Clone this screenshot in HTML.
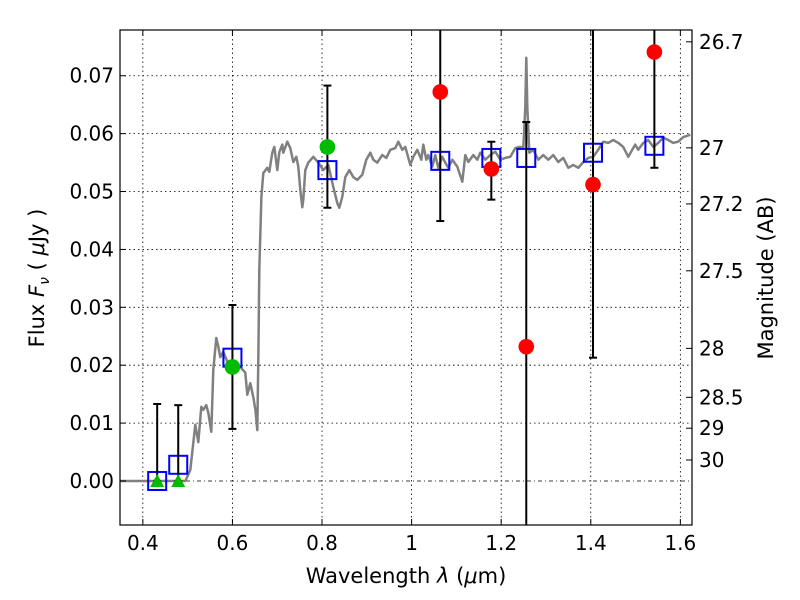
<!DOCTYPE html>
<html><head><meta charset="utf-8"><style>
html,body{margin:0;padding:0;background:#fff;}
svg{display:block;font-family:"DejaVu Sans","Liberation Sans",sans-serif;}
</style></head><body>
<svg id="chart" width="800" height="600">
<rect x="0" y="0" width="800" height="600" fill="#fff"/>
<g id="grid"></g>
<g id="plot"></g>
<g id="axes"></g>
<text x="406" y="583" font-size="21" text-anchor="middle">Wavelength  <tspan font-style="italic">λ</tspan> (<tspan font-style="italic">μ</tspan>m)</text>
<text transform="translate(44,278) rotate(-90)" font-size="21" text-anchor="middle">Flux  <tspan font-style="italic">F</tspan><tspan font-style="italic" font-size="14" dy="5">ν</tspan><tspan dy="-5">  ( </tspan><tspan font-style="italic">μ</tspan>Jy )</text>
<text transform="translate(773,278) rotate(-90)" font-size="21" text-anchor="middle">Magnitude (AB)</text>
</svg>
<script>
const specLam=[0.350,0.495,0.506,0.5172,0.5239,0.5306,0.5350,0.5417,0.5462,0.5529,0.5574,0.5641,0.5685,0.5730,0.5797,0.5886,0.6020,0.6176,0.6288,0.6333,0.6400,0.6467,0.6512,0.6556,0.6579,0.6601,0.6646,0.6690,0.6779,0.6824,0.6891,0.6935,0.7002,0.7047,0.7114,0.7136,0.7225,0.7292,0.7359,0.7426,0.7471,0.7516,0.7560,0.7583,0.7627,0.7694,0.7806,0.7917,0.8029,0.8141,0.8252,0.8342,0.8386,0.8453,0.8520,0.8609,0.8699,0.8788,0.8900,0.8989,0.9078,0.9145,0.9234,0.9346,0.9435,0.9525,0.9636,0.9703,0.9792,0.9859,0.9971,1.0038,1.0127,1.0217,1.0261,1.0328,1.0373,1.0462,1.0529,1.0596,1.0685,1.0752,1.0819,1.0908,1.1020,1.1132,1.1199,1.1266,1.1377,1.1467,1.1534,1.1645,1.1757,1.1868,1.1980,1.2091,1.2203,1.2315,1.2426,1.2493,1.2538,1.2560,1.2583,1.2627,1.2716,1.2828,1.2940,1.3051,1.3163,1.3275,1.3386,1.3498,1.3609,1.3721,1.3833,1.3944,1.4056,1.4167,1.4279,1.4391,1.4502,1.4614,1.4725,1.4837,1.4926,1.4993,1.5060,1.5172,1.5283,1.5395,1.5507,1.5618,1.5730,1.5841,1.5953,1.6065,1.6221];
const specFlux=[0,0,0.0019,0.0097,0.0067,0.0128,0.0123,0.0131,0.0118,0.0085,0.0192,0.0247,0.0232,0.0214,0.0223,0.0206,0.0195,0.0197,0.0187,0.0149,0.0169,0.0145,0.0123,0.0088,0.0221,0.0365,0.0491,0.0532,0.0541,0.0534,0.0567,0.0577,0.0537,0.0568,0.0581,0.0567,0.0586,0.0575,0.0551,0.0560,0.0543,0.0503,0.0473,0.0486,0.0537,0.0550,0.0560,0.0550,0.0537,0.0546,0.0508,0.0480,0.0472,0.0491,0.0525,0.0537,0.0525,0.0520,0.0529,0.0555,0.0567,0.0555,0.0550,0.0563,0.0558,0.0572,0.0575,0.0586,0.0572,0.0577,0.0546,0.0560,0.0572,0.0555,0.0581,0.0555,0.0563,0.0543,0.0563,0.0541,0.0560,0.0550,0.0541,0.0555,0.0543,0.0517,0.0563,0.0551,0.0563,0.0555,0.0567,0.0555,0.0563,0.0569,0.0555,0.0558,0.0560,0.0575,0.0577,0.0575,0.0646,0.0731,0.0646,0.0567,0.0572,0.0555,0.0563,0.0555,0.0563,0.0551,0.0558,0.0541,0.0546,0.0541,0.0551,0.0558,0.0560,0.0572,0.0586,0.0584,0.0589,0.0584,0.0577,0.0560,0.0572,0.0581,0.0572,0.0584,0.0589,0.0577,0.0584,0.0593,0.0589,0.0584,0.0586,0.0594,0.0598];
const modelLam=[0.432,0.479,0.600,0.812,1.064,1.178,1.256,1.405,1.542];
const modelFlux=[0.0000,0.0028,0.0213,0.0537,0.0553,0.0558,0.0558,0.0567,0.0579];
const greenLam=[0.600,0.812];
const greenFlux=[0.0197,0.0577];
const greenErrLo=[0.0090,0.0472];
const greenErrHi=[0.0304,0.0683];
const limLam=[0.432,0.479];
const limFlux=[0.0,0.0];
const limErrHi=[0.0133,0.0131];
const redLam=[1.064,1.178,1.256,1.405,1.542];
const redFlux=[0.0672,0.0539,0.0232,0.0512,0.0741];
const redErrLo=[0.0449,0.0486,-0.02,0.0213,0.0541];
const redErrHi=[0.09,0.0586,0.0620,0.09,0.09];
const xTicks=[0.4,0.6,0.8,1.0,1.2,1.4,1.6];
const xTickLabels=["0.4","0.6","0.8","1","1.2","1.4","1.6"];
const yTicks=[0,0.01,0.02,0.03,0.04,0.05,0.06,0.07];
const yTickLabels=["0.00","0.01","0.02","0.03","0.04","0.05","0.06","0.07"];
const magTicks=[26.7,27,27.2,27.5,28,28.5,29,30];
const magTickLabels=["26.7","27","27.2","27.5","28","28.5","29","30"];

const L=120,R=692,T=30,B=525;
const X0=0.349,X1=1.626,Y0=-0.0076,Y1=0.0779;
const xs=v=>L+(v-X0)/(X1-X0)*(R-L);
const ys=v=>B-(v-Y0)/(Y1-Y0)*(B-T);
const NS="http://www.w3.org/2000/svg";
function mk(tag,attrs,parent){const e=document.createElementNS(NS,tag);for(const k in attrs)e.setAttribute(k,attrs[k]);parent.appendChild(e);return e;}
const grid=document.getElementById('grid'),plot=document.getElementById('plot'),axes=document.getElementById('axes');

xTicks.forEach((t,i)=>{
  const g=mk('line',{x1:xs(t),x2:xs(t),y1:T,y2:B,stroke:'#000','stroke-width':0.8,'stroke-dasharray':'1.5,3'},grid);
  
  
  mk('line',{x1:xs(t),x2:xs(t),y1:B,y2:B-6,stroke:'#000'},axes);
  mk('line',{x1:xs(t),x2:xs(t),y1:T,y2:T+6,stroke:'#000'},axes);
  const tx=mk('text',{x:xs(t),y:B+25,'font-size':20,'text-anchor':'middle'},axes);
  tx.textContent=xTickLabels[i];
  
  
});
yTicks.forEach((t,i)=>{
  const g=mk('line',{x1:L,x2:R,y1:ys(t),y2:ys(t),stroke:'#000','stroke-width':0.8,'stroke-dasharray':t===0?'4,3,1,3':'1.5,3'},grid);
  
  
  mk('line',{x1:L,x2:L+6,y1:ys(t),y2:ys(t),stroke:'#000'},axes);
  const tx=mk('text',{x:L-6,y:ys(t)+7,'font-size':20,'text-anchor':'end'},axes);
  tx.textContent=yTickLabels[i];
  
  
});
magTicks.forEach((m,i)=>{
  const f=Math.pow(10,(23.9-m)/2.5);
  const y=ys(f);
  mk('line',{x1:R,x2:R-6,y1:y,y2:y,stroke:'#000'},axes);
  const tx=mk('text',{x:R+7,y:y+7,'font-size':20},axes);
  tx.textContent=magTickLabels[i];
  
  
});
mk('rect',{x:L,y:T,width:R-L,height:B-T,fill:'none',stroke:'#000','stroke-width':1.2},axes);

const clip=mk('clipPath',{id:'cp'},plot);
mk('rect',{x:L,y:T,width:R-L,height:B-T},clip);
const pg=mk('g',{'clip-path':'url(#cp)'},plot);

const d=specLam.map((l,i)=>(i?'L':'M')+xs(l).toFixed(1)+','+ys(specFlux[i]).toFixed(1)).join(' ');
const sp=mk('path',{d:d,fill:'none',stroke:'#808080','stroke-width':2.5,'stroke-linejoin':'round'},pg);



function errbar(x,lo,hi){
  const g=mk('g',{stroke:'#000','stroke-width':2},pg);
  
  
  mk('line',{x1:xs(x),x2:xs(x),y1:ys(lo),y2:ys(hi)},g);
  mk('line',{x1:xs(x)-4,x2:xs(x)+4,y1:ys(lo),y2:ys(lo)},g);
  mk('line',{x1:xs(x)-4,x2:xs(x)+4,y1:ys(hi),y2:ys(hi)},g);
}
modelLam.forEach((l,i)=>{
  const r=mk('rect',{x:xs(l)-9,y:ys(modelFlux[i])-9,width:18,height:18,fill:'none',stroke:'#0000ff','stroke-width':2},pg);
  
  
});
limLam.forEach((l,i)=>{
  errbar(l,limFlux[i],limErrHi[i]);
  const x=xs(l),y=ys(limFlux[i]);
  const p=mk('polygon',{points:`${x},${y-7} ${x-7},${y+6} ${x+7},${y+6}`,fill:'#00bb00'},pg);
  
  
});
greenLam.forEach((l,i)=>{
  errbar(l,greenErrLo[i],greenErrHi[i]);
  const c=mk('circle',{cx:xs(l),cy:ys(greenFlux[i]),r:7.8,fill:'#00bb00'},pg);
  
  
});
redLam.forEach((l,i)=>{
  errbar(l,redErrLo[i],redErrHi[i]);
  const c=mk('circle',{cx:xs(l),cy:ys(redFlux[i]),r:7.8,fill:'#ff0000'},pg);
  
  
});
</script>
</body></html>
